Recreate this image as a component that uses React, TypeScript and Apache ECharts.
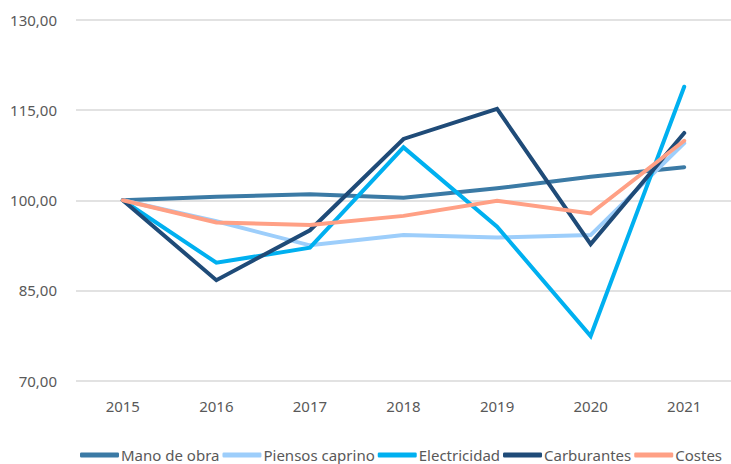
import React, { useEffect, useRef } from "react";
import * as echarts from "echarts";

const years = ["2015", "2016", "2017", "2018", "2019", "2020", "2021"];
const manoDeObra = [100, 100.6, 101.0, 100.4, 102.0, 103.9, 105.5];
const piensosCaprino = [100, 96.5, 92.5, 94.2, 93.8, 94.2, 109.5];
const electricidad = [100, 89.6, 92.1, 108.8, 95.6, 77.4, 118.9];
const carburantes = [100, 86.7, 95.0, 110.2, 115.2, 92.7, 111.2];
const costes = [100, 96.3, 95.9, 97.4, 99.9, 97.8, 109.9];

const seriesDefs = [
  { name: "Mano de obra", data: manoDeObra, color: "#3B7AA5" },
  { name: "Piensos caprino", data: piensosCaprino, color: "#9DCEFB" },
  { name: "Electricidad", data: electricidad, color: "#00B0F0" },
  { name: "Carburantes", data: carburantes, color: "#1F4B78" },
  { name: "Costes", data: costes, color: "#FFA085" },
];

const FONT = "'Noto Sans', 'Open Sans', sans-serif";

export default function App() {
  const ref = useRef<HTMLDivElement>(null);
  useEffect(() => {
    document.body.style.margin = "0";
    const chart = echarts.init(ref.current!, null, { renderer: "svg" });
    chart.setOption({
      animation: false,
      backgroundColor: "#ffffff",
      textStyle: { fontFamily: FONT },
      grid: { left: 76, top: 20, width: 661, height: 360.5, containLabel: false },
      legend: {
        left: 80,
        top: 447,
        padding: 0,
        itemWidth: 39,
        itemHeight: 5,
        itemGap: 3,
        icon: "roundRect",
        textStyle: {
          fontFamily: FONT,
          fontSize: 15,
          lineHeight: 16,
          color: "#595959",
          padding: [0, 0, 0, -3],
        },
        data: seriesDefs.map((s) => s.name),
      },
      xAxis: {
        type: "category",
        data: years,
        boundaryGap: true,
        axisLine: { show: false },
        axisTick: { show: false },
        axisLabel: { color: "#595959", fontSize: 15, margin: 18, fontFamily: FONT },
      },
      yAxis: {
        type: "value",
        min: 70,
        max: 130,
        interval: 15,
        axisLine: { show: false },
        axisTick: { show: false },
        axisLabel: {
          color: "#595959",
          fontSize: 15,
          margin: 19,
          fontFamily: FONT,
          formatter: (v: number) => v.toFixed(2).replace(".", ","),
        },
        splitLine: { lineStyle: { color: "#D9D9D9", width: 1.5 } },
      },
      series: seriesDefs.map((s) => ({
        name: s.name,
        type: "line",
        data: s.data,
        symbol: "none",
        color: s.color,
        lineStyle: { width: 4, color: s.color, cap: "round", join: "miter" },
      })),
    });
    return () => chart.dispose();
  }, []);
  return <div ref={ref} style={{ width: 731, height: 464 }} />;
}
